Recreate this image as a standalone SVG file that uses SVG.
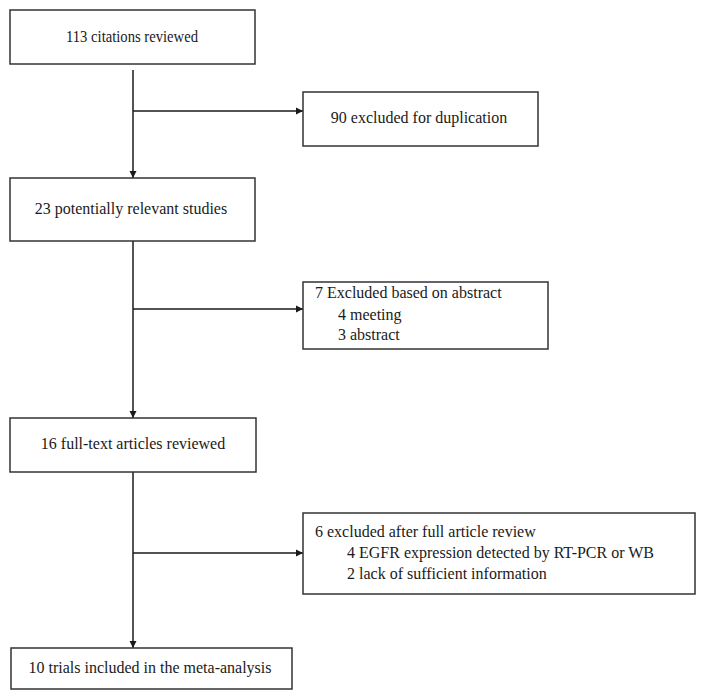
<svg xmlns="http://www.w3.org/2000/svg" width="706" height="700" viewBox="0 0 706 700">
<style>
.box{fill:#fff;stroke:#333;stroke-width:1.5}
text{font-family:'Liberation Serif','DejaVu Serif','Times New Roman',serif;font-size:16px;fill:#1a1a1a}
.c{text-anchor:middle}
.ln{stroke:#1a1a1a;stroke-width:1.5;fill:none}
</style>
<defs>
<marker id="ah" viewBox="0 0 10 10" refX="10" refY="5" markerWidth="7" markerHeight="8" markerUnits="userSpaceOnUse" orient="auto"><path d="M0,0L10,5L0,10z" fill="#1a1a1a"/></marker>
</defs>
<rect width="706" height="700" fill="#fff"/>
<g id="connectors">
<line class="ln" x1="133" y1="70" x2="133" y2="178" marker-end="url(#ah)"/>
<line class="ln" x1="133" y1="111" x2="303" y2="111" marker-end="url(#ah)"/>
<line class="ln" x1="133" y1="241" x2="133" y2="418" marker-end="url(#ah)"/>
<line class="ln" x1="133" y1="309" x2="303" y2="309" marker-end="url(#ah)"/>
<line class="ln" x1="133" y1="472" x2="133" y2="648" marker-end="url(#ah)"/>
<line class="ln" x1="133" y1="553" x2="303" y2="553" marker-end="url(#ah)"/>
</g>
<g id="n1"><rect class="box" x="10" y="10" width="245" height="54"/><text class="c" x="132" y="42" textLength="132" lengthAdjust="spacingAndGlyphs">113 citations reviewed</text></g>
<g id="n2"><rect class="box" x="303" y="92" width="235" height="54"/><text class="c" x="419" y="123">90 excluded for duplication</text></g>
<g id="n3"><rect class="box" x="10" y="178" width="245" height="63"/><text class="c" x="131" y="214">23 potentially relevant studies</text></g>
<g id="n4"><rect class="box" x="303" y="282" width="245" height="67"/>
<text x="315" y="298">7 Excluded based on abstract</text>
<text x="338" y="320">4 meeting</text>
<text x="338" y="340">3 abstract</text></g>
<g id="n5"><rect class="box" x="10" y="418" width="246" height="54"/><text class="c" x="133" y="449">16 full-text articles reviewed</text></g>
<g id="n6"><rect class="box" x="303" y="513" width="392" height="81"/>
<text x="315" y="537">6 excluded after full article review</text>
<text x="347" y="558">4 EGFR expression detected by RT-PCR or WB</text>
<text x="347" y="579">2 lack of sufficient information</text></g>
<g id="n7"><rect class="box" x="11" y="648" width="281" height="41"/><text class="c" x="150" y="673">10 trials included in the meta-analysis</text></g>
</svg>
